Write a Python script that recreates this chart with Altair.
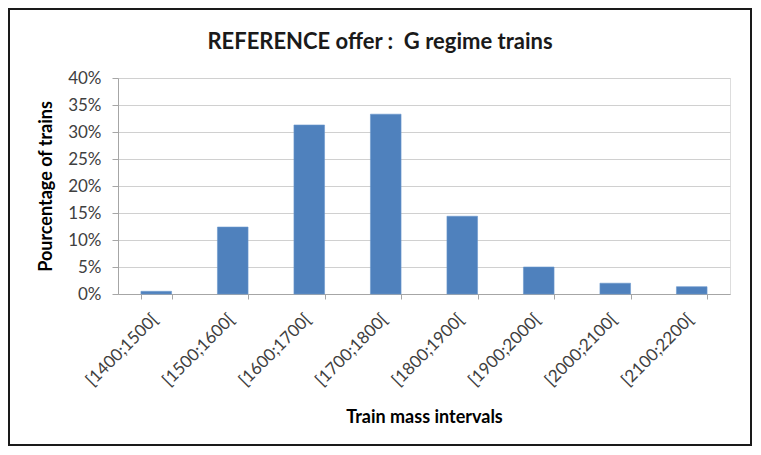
import altair as alt
import pandas as pd

categories = ["[1400;1500[", "[1500;1600[", "[1600;1700[", "[1700;1800[",
              "[1800;1900[", "[1900;2000[", "[2000;2100[", "[2100;2200["]
percentages = [0.005, 0.124, 0.313, 0.333, 0.144, 0.050, 0.020, 0.0135]
y_ticks = [0, 0.05, 0.10, 0.15, 0.20, 0.25, 0.30, 0.35, 0.40]
title_text = ["REFERENCE offer :\u00a0 G regime trains"]

df = pd.DataFrame({"interval": categories, "share": percentages})
tdf = pd.DataFrame({"t": title_text})

FONT = "Lato"
TXT = "#404040"

x_enc = alt.X(
    "interval:N", sort=categories,
    scale=alt.Scale(paddingInner=0.6, paddingOuter=0.3),
    axis=alt.Axis(
        title="Train mass intervals", labelAngle=-45, tickBand="extent",
        domainColor="#a6a6a6", tickColor="#a6a6a6", tickSize=5,
        labelColor=TXT, labelFont=FONT, labelFontSize=17, labelPadding=12,
        labelOffset=-7,
        titleFont=FONT, titleFontSize=18, titleFontWeight="bold",
        titleColor="#000000", titleY=123, titleBaseline="middle", grid=False,
    ),
)

y_enc = alt.Y(
    "share:Q",
    scale=alt.Scale(domain=[0, 0.40], nice=False),
    axis=alt.Axis(
        title="Pourcentage of trains", format=".0%", values=y_ticks,
        domainColor="#a6a6a6", tickColor="#a6a6a6", tickSize=6,
        gridColor="#d0d0d0", labelColor=TXT, labelFont=FONT,
        labelFontSize=17, labelPadding=11,
        titleFont=FONT, titleFontSize=18, titleFontWeight="bold",
        titleColor="#000000", titleX=-72, titleY=108, titleAngle=-90,
        titleBaseline="middle", titleAlign="center",
    ),
)

bars = alt.Chart(df).mark_bar(color="#4f81bd", stroke="#6a97cc", strokeWidth=0.6).encode(
    x=x_enc, y=y_enc
)

title = alt.Chart(tdf).mark_text(
    font=FONT, fontSize=22, fontWeight="bold", color="#1a1a1a",
    align="center", baseline="middle"
).encode(text="t:N", x=alt.value(262), y=alt.value(-36))

frame = alt.Chart(df).mark_rect(
    fill=None, stroke="#1a1a1a", strokeWidth=2
).encode(
    x=alt.value(-109), x2=alt.value(633), y=alt.value(-69), y2=alt.value(367)
)

chart = alt.layer(bars, title, frame).properties(
    width=612, height=216,
    autosize=alt.AutoSizeParams(type="none"),
    padding={"left": 110, "top": 70, "right": 23, "bottom": 153},
).configure_view(stroke=None).configure(background="white")

chart.save("out.html", embed_options={"renderer": "svg", "actions": False})
